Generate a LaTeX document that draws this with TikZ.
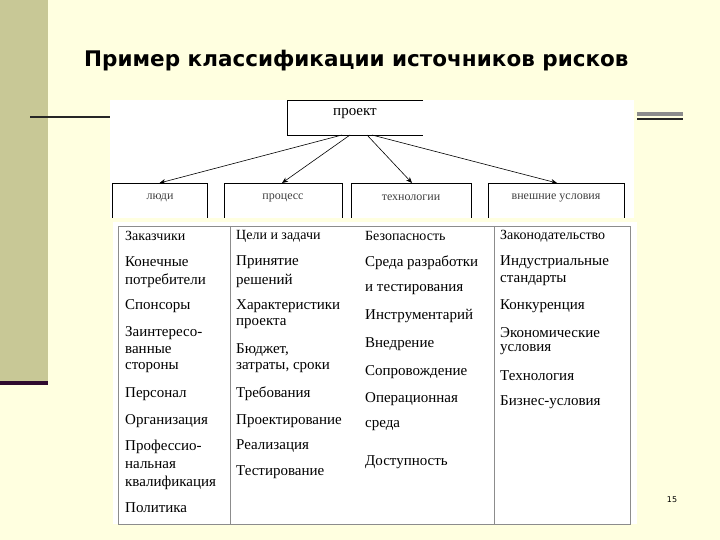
\documentclass[tikz,border=0pt]{standalone}
\usepackage{fontspec}
\usetikzlibrary{arrows.meta}
\setmainfont{Liberation Serif}
\newfontfamily\titlefont{DejaVu Sans}
\begin{document}
\begin{tikzpicture}[x=1pt,y=-1pt,
  cell/.style={anchor=west,inner sep=0pt,font=\fontsize{15}{16}\selectfont},
  hcell/.style={anchor=west,inner sep=0pt,font=\fontsize{14}{15}\selectfont},
  sub/.style={font=\fontsize{12}{13}\selectfont,text=black!75},
  arr/.style={-{Stealth[length=6pt,width=5pt]},semithick}]
\definecolor{cream}{HTML}{FFFFE0}
\definecolor{olive}{HTML}{C8C896}
\definecolor{plum}{HTML}{2E0A2E}
\useasboundingbox (0,0) rectangle (720,540);
\fill[cream] (0,0) rectangle (720,540);
\fill[olive] (0,0) rectangle (48,381);
\fill[plum] (0,381) rectangle (48,385);
\draw[line width=1.5pt,black!85] (30,117) -- (112,117);
\fill[black!45] (637,112) rectangle (683,116);
\draw[line width=1.5pt,black!85] (637,119) -- (683,119);
\node[font=\titlefont\bfseries\fontsize{21.5}{24}\selectfont,anchor=west,inner sep=0pt] (title) at (84,61) {Пример классификации источников рисков};
\fill[white] (110,100) rectangle (634,218);
\fill[white] (113,222) rectangle (637,524);
% project box
\draw (423,100) -- (287,100) -- (287,135) -- (423,135);
\node[font=\fontsize{15}{16}\selectfont] (proj) at (355,114) {проект};
\coordinate (p1) at (342,135);\coordinate (p2) at (350,135);
\coordinate (p3) at (367,135);\coordinate (p4) at (372,135);
% sub boxes
\draw (112,218) -- (112,183) -- (207,183) -- (207,218);
\draw (224,218) -- (224,183) -- (342,183) -- (342,218);
\draw (351,218) -- (351,183) -- (471,183) -- (471,218);
\draw (488,218) -- (488,183) -- (624,183) -- (624,218);
\node[sub] (b1) at (160,198) {люди};
\node[sub] (b2) at (283,198) {процесс};
\node[sub] (b3) at (411,198) {технологии};
\node[sub] (b4) at (556,198) {внешние условия};
\coordinate (t1) at (159.5,183);\coordinate (t2) at (282,183);
\coordinate (t3) at (412,183);\coordinate (t4) at (557,183);
\draw[arr] (p1) -- (t1);\draw[arr] (p2) -- (t2);
\draw[arr] (p3) -- (t3);\draw[arr] (p4) -- (t4);
% table
\draw[black!45] (118,226) rectangle (630,524);
\draw[black!45] (230,226) -- (230,524);
\draw[black!45] (494,226) -- (494,524);
% col1
\node[hcell] at (125,236) {Заказчики};
\node[cell] at (125,262) {Конечные};
\node[cell] at (125,281) {потребители};
\node[cell] at (125,306) {Спонсоры};
\node[cell] at (125,333) {Заинтересо-};
\node[cell] at (125,350) {ванные};
\node[cell] at (125,368) {стороны};
\node[cell] at (125,394) {Персонал};
\node[cell] at (125,421) {Организация};
\node[cell] at (125,447) {Профессио-};
\node[cell] at (125,465) {нальная};
\node[cell] at (125,483) {квалификация};
\node[cell] at (125,508) {Политика};
% col2
\node[hcell] at (236,236) {Цели и задачи};
\node[cell] at (236,262) {Принятие};
\node[cell] at (236,281) {решений};
\node[cell] at (236,306) {Характеристики};
\node[cell] at (236,324) {проекта};
\node[cell] at (236,350) {Бюджет,};
\node[cell] at (236,368) {затраты, сроки};
\node[cell] at (236,394) {Требования};
\node[cell] at (236,421) {Проектирование};
\node[cell] at (236,446) {Реализация};
\node[cell] at (236,472) {Тестирование};
% col3
\node[hcell] at (365,236) {Безопасность};
\node[cell] at (365,263) {Среда разработки};
\node[cell] at (365,290) {и тестирования};
\node[cell] at (365,316) {Инструментарий};
\node[cell] at (365,344) {Внедрение};
\node[cell] at (365,372) {Сопровождение};
\node[cell] at (365,399) {Операционная};
\node[cell] at (365,426) {среда};
\node[cell] at (365,462) {Доступность};
% col4
\node[hcell] at (500,236) {Законодательство};
\node[cell] at (500,262) {Индустриальные};
\node[cell] at (500,281) {стандарты};
\node[cell] at (500,306) {Конкуренция};
\node[cell] at (500,333) {Экономические};
\node[cell] at (500,350) {условия};
\node[cell] at (500,376) {Технология};
\node[cell] at (500,402) {Бизнес-условия};
\node[font=\titlefont\fontsize{8}{9}\selectfont] (pg) at (672,500) {15};
\end{tikzpicture}
\end{document}
